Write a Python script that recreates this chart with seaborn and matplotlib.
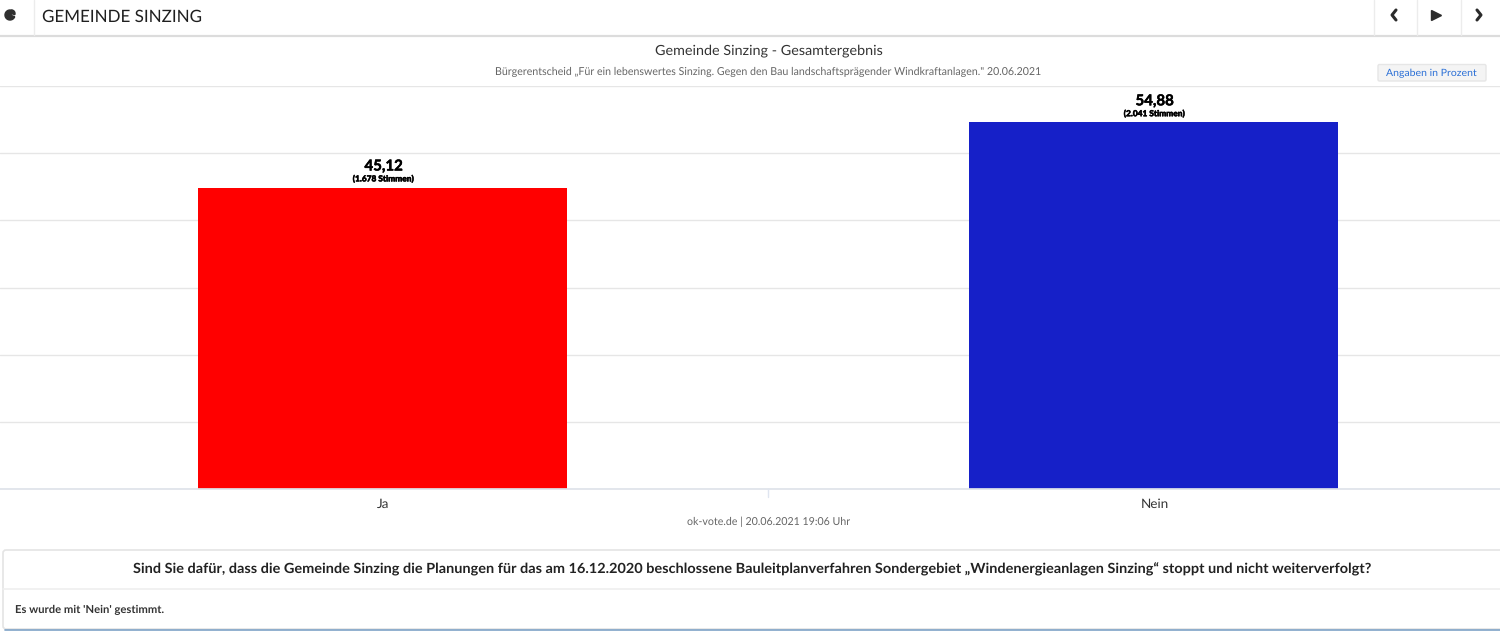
import numpy as np
import pandas as pd
import seaborn as sns
import matplotlib.pyplot as plt
import matplotlib.patheffects as pe
from matplotlib.patches import FancyBboxPatch, Wedge
from matplotlib.transforms import ScaledTranslation

# Values
answers = ['Ja', 'Nein']
percent = [45.12, 54.88]
vote_labels = ['(1.678 Stimmen)', '(2.041 Stimmen)']
percent_labels = ['45,12', '54,88']
bar_colors = ['#ff0000', '#1620c8']

title = 'Gemeinde Sinzing - Gesamtergebnis'
subtitle = 'Bürgerentscheid „Für ein lebenswertes Sinzing. Gegen den Bau landschaftsprägender Windkraftanlagen." 20.06.2021'
credit = 'ok-vote.de | 20.06.2021 19:06 Uhr'
question = 'Sind Sie dafür, dass die Gemeinde Sinzing die Planungen für das am 16.12.2020 beschlossene Bauleitplanverfahren Sondergebiet „Windenergieanlagen Sinzing“ stoppt und nicht weiterverfolgt?'
result = "Es wurde mit 'Nein' gestimmt."

W, H = 1500, 643

sns.set_theme(style='white')
plt.rcParams['font.family'] = ['Lato', 'DejaVu Sans']
plt.rcParams['text.hinting'] = 'no_hinting'
plt.rcParams['text.hinting_factor'] = 8

data = pd.DataFrame({'Antwort': answers, 'Prozent': percent})

fig = plt.figure(figsize=(W / 100, H / 100), dpi=100, facecolor='white')

# Chart area: baseline at y=489px, top of axis at y=86px, cut off on the right like the screenshot
ax = fig.add_axes([0, (H - 489) / H, 1, (489 - 86) / H])
sns.barplot(data=data, x='Antwort', y='Prozent', hue='Antwort', palette=bar_colors,
            width=369 / 771, saturation=1, legend=False, linewidth=0, ax=ax)
ax.set_xlim(-382 / 771, (W - 382) / 771)
y_top = 60.33
ax.set_ylim(0, y_top)
# the y axis has no labels, just six even gridline steps
ax.set_yticks(np.linspace(0, y_top, 7))
ax.set_axisbelow(True)
ax.grid(True, axis='y', color='#e6e6e6', linewidth=1)
ax.grid(False, axis='x')
ax.tick_params(left=False, labelleft=False, bottom=False, labelbottom=True, pad=1,
               labelsize=9.7, labelcolor='#333333')
ax.set_xlabel('')
ax.set_ylabel('')
for side in ['top', 'left', 'right']:
    ax.spines[side].set_visible(False)
ax.spines['bottom'].set_color('#dfe3ea')
ax.patch.set_alpha(0)

# Category labels sit a touch right of the bar centres
nudge = ScaledTranslation(1.5 / 100, 0, fig.dpi_scale_trans)
for label in ax.get_xticklabels():
    label.set_transform(label.get_transform() + nudge)

# Labels above the bars
smear = [pe.withStroke(linewidth=0.35, foreground='black')]
for i, value in enumerate(percent):
    ax.annotate(percent_labels[i], (i, value), xytext=(1.2, 10.5), textcoords='offset points',
                ha='center', va='bottom', fontsize=10.8, fontweight='bold', color='black',
                path_effects=smear)
    ax.annotate(vote_labels[i], (i, value), xytext=(1, 3.5), textcoords='offset points',
                ha='center', va='bottom', fontsize=6, fontweight='black', color='black',
                path_effects=smear)

# Page parts around the chart, in pixel coordinates
page = fig.add_axes([0, 0, 1, 1], zorder=5)
page.set_xlim(0, W)
page.set_ylim(H, 0)
page.axis('off')

# Header bar
page.plot([0, W], [35.5, 35.5], color='#dcdcdc', linewidth=1.6)
for x in [33.5, 1373.5, 1416.5, 1460.5]:
    page.plot([x, x], [0, 35], color='#ececec', linewidth=1)
page.add_patch(Wedge((10, 15), 5, 20, 330, color='#2f2f2f'))
page.add_patch(Wedge((11.5, 13.5), 3.5, 270, 20, color='#2f2f2f'))
page.text(42, 17, 'GEMEINDE SINZING', fontsize=12.25, color='#1f1f1f', va='center', ha='left')
page.plot([1396, 1392, 1396], [10, 15, 20], color='#2b2b2b', linewidth=2.2)
page.plot([1436], [15], marker='>', markersize=7, color='#2b2b2b')
page.plot([1477, 1481, 1477], [10, 15, 20], color='#2b2b2b', linewidth=2.2)

# Titles
page.text(768.5, 50.5, title, fontsize=10.37, color='#333333', ha='center', va='center')
page.text(768.5, 72, subtitle, fontsize=7.7, color='#666666', ha='center', va='center')

# Unit button
page.add_patch(FancyBboxPatch((1378, 64.5), 108, 16.5, boxstyle='round,pad=0,rounding_size=1.5',
                              facecolor='#f4f4f4', edgecolor='#e6e6e6', linewidth=1))
page.text(1431, 73, 'Angaben in Prozent', fontsize=7.55, color='#2a6fd6', ha='center', va='center')

# Middle tick and credit line
page.plot([768, 768], [489, 497], color='#dfe5f0', linewidth=1)
page.text(768.5, 522, credit, fontsize=7.65, color='#666666', ha='center', va='center')

# Question box
page.add_patch(FancyBboxPatch((3, 550), 1510, 79, boxstyle='round,pad=0,rounding_size=3',
                              facecolor='white', edgecolor='#e4e4e4', linewidth=1.2))
page.plot([5, W], [629.5, 629.5], color='#7fa3c7', linewidth=1.2)
page.plot([3, W], [589, 589], color='#efefef', linewidth=1.2)
page.text(752.5, 569.5, question, fontsize=10.43, fontweight='bold', color='#222222',
          ha='center', va='center')
page.text(15, 610, result, fontsize=8.1, fontweight='bold', color='#333333',
          ha='left', va='center')

fig.savefig('out.png', dpi=100, facecolor='white')
